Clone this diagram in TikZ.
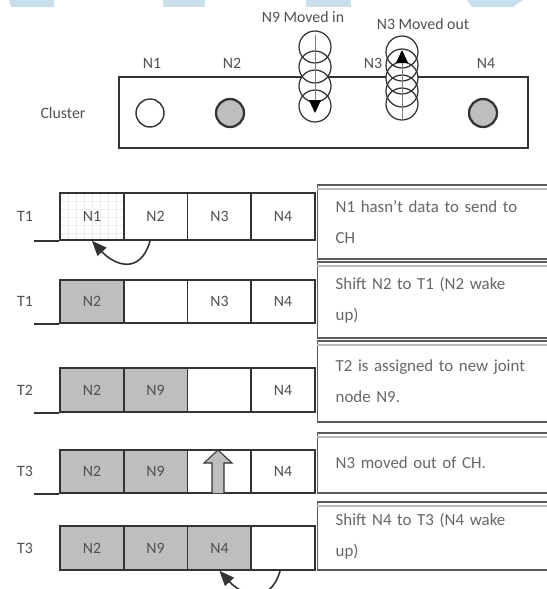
\documentclass[tikz,border=0pt]{standalone}
\usepackage{fontspec}
\setmainfont{Carlito}
\definecolor{slotGray}{HTML}{BEBEBE}
\definecolor{slotLine}{HTML}{333333}
\definecolor{slotText}{HTML}{505050}
\definecolor{bandBlue}{HTML}{C9DFEB}
\usetikzlibrary{arrows.meta,positioning}

\begin{document}
\begin{tikzpicture}[x=0.02cm,y=-0.02cm,
		every node/.style={font=\fontsize{9}{11}\selectfont, text=slotText},
		celda/.style={draw=slotLine, line width=0.9pt, minimum width=1.275cm, inner sep=0pt},
		nodo/.style={circle, draw=slotLine, line width=0.8pt, minimum size=0.56cm, inner sep=0pt},
		caja/.style={draw=slotLine!80, line width=0.8pt, anchor=west, text width=4.4cm, align=left,
			inner xsep=0.36cm, inner ysep=2pt, text=black!60, font=\fontsize{9.6}{17.6}\selectfont},
		giro/.style={slotLine, line width=0.9pt, -{Triangle[length=3mm,width=2.4mm]}}]
		
		\useasboundingbox (0,0) rectangle (547,589);
		\clip (0,0) rectangle (547,589);
		
		% Franjas azules
		\fill[bandBlue] (9,0) -- (54,0) -- (54,7) -- (11,7) -- cycle;
		\fill[bandBlue] (163,0) -- (205,0) -- (205,7) -- (163,7) -- cycle;
		\fill[bandBlue] (306,0) -- (351,0) -- (351,7) -- (306,7) -- cycle;
		\fill[bandBlue] (467,0) -- (523,0) -- (513,7) -- (472,7) -- cycle;
		
		% Grupo de nodos
		\node[draw=slotLine, line width=0.9pt, minimum width=8.18cm, minimum height=1.42cm, inner sep=0pt]
			(cluster) at (323.5,112.5) {};
		\node (lblcluster) at (63,113) {Cluster};
		\node[nodo, fill=white] (n1) at (150,113) {};
		\node[nodo, fill=slotGray, line width=1.3pt] (n2) at (230,113) {};
		\node[nodo, fill=slotGray, line width=1.3pt] (n4) at (483,113) {};
		\foreach \nom/\xc in {N1/152,N2/232,N3/373,N4/486}{
			\node (lbl\nom) at (\xc,63) {\nom};
		}
		
		% Columnas de movimiento
		\foreach \y in {47,67,86,106} \fill[white] (315,\y) circle (0.32cm);
		\foreach \y in {47,67,86,106} \draw[slotLine, line width=0.7pt] (315,\y) circle (0.32cm);
		\foreach \y in {52,65,78,91,104} \fill[white] (402,\y) circle (0.32cm);
		\foreach \y in {52,65,78,91,104} \draw[slotLine, line width=0.7pt] (402,\y) circle (0.32cm);
		\coordinate (n9top) at (315,35);
		\coordinate (n9bot) at (315,113);
		\coordinate (n3bot) at (402,119);
		\coordinate (n3top) at (402,50);
		\draw[gray, line width=0.5pt, -{Triangle[length=2.6mm,width=2.4mm,black]}] (n9top) -- (n9bot);
		\draw[gray, line width=0.5pt, -{Triangle[length=2.6mm,width=2.4mm,black]}] (n3bot) -- (n3top);
		\node (lblin) at (303,17) {N9 Moved in};
		\node (lblout) at (423,24) {N3 Moved out};
		
		% Rejilla tenue en N1
		\foreach \gx in {68,76,...,116} \draw[gray!14, line width=0.3pt] (\gx,194) -- (\gx,239);
		\foreach \gy in {201,209,...,233} \draw[gray!14, line width=0.3pt] (61,\gy) -- (123,\gy);
		
		% Ranuras de tiempo
		\foreach \r/\yc/\h/\etiq/\ng/\pa/\pb/\pc/\pd in {
			1/216.5/0.94/T1/0/N1/N2/N3/N4,
			2/301.5/0.86/T1/1/N2/{}/N3/N4,
			3/390/0.88/T2/2/N2/N9/{}/N4,
			4/471.5/0.86/T3/2/N2/N9/{}/N4,
			5/548/0.88/T3/3/N2/N9/N4/{}}{
			\node (t\r) at (25,\yc) {\etiq};
			\foreach \k/\xc/\lab in {1/91.9/\pa,2/155.6/\pb,3/219.4/\pc,4/283.1/\pd}{
				\ifnum\k>\ng \def\relleno{white}\else\def\relleno{slotGray}\fi
				\ifnum\r\k=11 \def\relleno{none}\fi
				\node[celda, fill=\relleno, minimum height=\h cm] (c\r-\k) at (\xc,\yc) {\lab};
			}
		}
		
		% Lineas base
		\foreach \r in {1,2,3,4}{
			\draw[slotLine, line width=0.9pt] (c\r-1.south west) ++(-25,0) -- (c\r-1.south west);
		}
		
		% Flecha de salida de N3
		\draw[slotLine, fill=slotGray, line width=0.6pt]
			(212,493) -- (212,463) -- (204,463) -- (218,450) -- (232,463) -- (224,463) -- (224,493);
		
		% Desplazamientos
		\draw[giro] ([xshift=-0.11cm]c1-2.south) .. controls +(-10,35) and +(22,24) .. (c1-1.south);
		\draw[giro] ([xshift=-0.06cm]c5-4.south) .. controls +(-10,35) and +(22,24) .. (c5-3.south);
		
		% Explicaciones
		\node[caja, minimum height=1.48cm] (d1) at (317,222) {N1 hasn't data to send to\\CH};
		\node[caja, minimum height=1.52cm] (d2) at (317,300) {Shift N2 to T1 (N2 wake\\up)};
		\node[caja, minimum height=1.62cm] (d3) at (317,381.5) {T2 is assigned to new joint\\node N9.};
		\node[caja, minimum height=1.2cm] (d4) at (317,463) {N3 moved out of CH.};
		\node[caja, minimum height=1.36cm] (d5) at (317,536) {Shift N4 to T3 (N4 wake\\up)};
		\foreach \d in {d1,d2,d3,d4,d5}{
			\draw[gray!55, line width=1pt] ([yshift=-2.5pt]\d.north west) -- ([yshift=-2.5pt]\d.north east);
		}
		
	\end{tikzpicture}
\end{document}
